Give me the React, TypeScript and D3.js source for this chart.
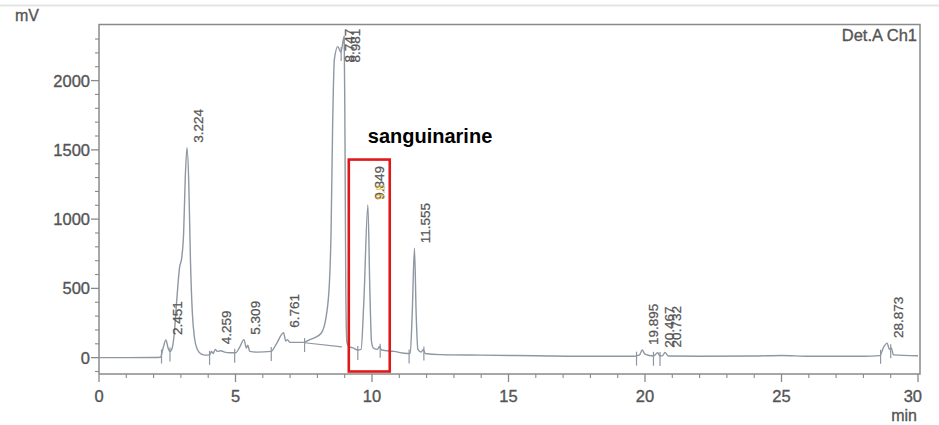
import React from "react";
import * as d3 from "d3";

// Chromatogram trace (retention time in min, detector signal in mV)
const traceTime = [
  0, 1.0, 2.0, 2.25, 2.35, 2.451, 2.53, 2.6, 2.68, 2.75, 2.85, 2.95, 3.03, 3.1, 3.16, 3.224,
  3.29, 3.35, 3.42, 3.5, 3.6, 3.75, 3.9, 4.05, 4.12, 4.18, 4.259, 4.33, 4.45, 4.6, 4.8,
  5.0, 5.15, 5.309, 5.4, 5.45, 5.52, 5.8, 6.3, 6.5, 6.761, 6.84, 6.9, 7.0, 7.5, 7.7, 7.9,
  8.14, 8.32, 8.44, 8.5, 8.56, 8.62, 8.747, 8.86, 8.981, 9.01, 9.04, 9.08, 9.15, 9.3, 9.48,
  9.6, 9.7, 9.849, 9.92, 9.98, 10.05, 10.2, 10.27, 10.35, 10.8, 11.3, 11.4, 11.47, 11.555,
  11.62, 11.68, 11.8, 11.88, 11.95, 12.5, 14, 16, 18, 19.6, 19.8, 19.895, 20.0, 20.3, 20.467,
  20.55, 20.65, 20.732, 20.85, 22, 24, 25, 26, 28, 28.6, 28.75, 28.873, 28.95, 29.02, 29.1, 30,
];
const traceMv = [
  0, 0, 1, 3, 70, 128, 70, 45, 70, 160, 420, 650, 720, 900, 1300, 1515,
  1250, 700, 320, 140, 60, 25, 18, 20, 45, 30, 60, 45, 50, 40, 35,
  35, 75, 130, 70, 90, 45, 40, 45, 100, 180, 120, 130, 110, 110, 128, 145,
  176, 296, 540, 900, 1700, 2150, 2245, 2205, 2320, 1600, 500, 110, 80, 70, 55,
  60, 400, 1103, 500, 120, 70, 60, 80, 55, 45, 30, 30, 300, 790,
  300, 60, 40, 60, 30, 22, 18, 14, 10, 10, 20, 55, 25, 12, 35,
  12, 15, 38, 12, 10, 12, 16, 10, 10, 15, 80, 105, 60, 70, 20, 14,
];

// Labelled peaks: retention time and apex height
const peakTimes = [2.451, 3.224, 4.259, 5.309, 6.761, 8.747, 8.981, 9.849, 11.555, 19.895, 20.467, 20.732, 28.873];
const peakHeights = [128, 1515, 60, 130, 180, 2245, 2320, 1103, 790, 55, 35, 38, 105];
const highlightedPeak = 9.849;

// Peak start / end integration marks
const markerTimes = [2.29, 2.6, 4.05, 4.97, 6.31, 7.53, 8.87, 9.48, 10.3, 11.36, 11.9, 19.69, 20.31, 20.55, 28.63, 29.0];

// Drawn integration baseline under the main peak
const dropLineTimes = [7.53, 8.9];
const dropLineMv = [108, 78];

// Axis ticks
const xMajorTicks = [0, 5, 10, 15, 20, 25, 30];
const yMajorTicks = [0, 500, 1000, 1500, 2000];

// Highlight box around the sanguinarine peak
const boxTimes = [9.15, 10.65];
const boxMv = [-100, 1430];
const boxCaption = "sanguinarine";

const W = 939;
const H = 425;
const FONT = "'Liberation Sans', Arial, Helvetica, sans-serif";
const AXIS = "#8a8a8a";
const TEXT = "#555";
const TRACE = "#8e97a2";

const left = 99;
const right = 920;
const top = 24.5;
const bottom = 374;

const x = d3.scaleLinear().domain([0, 30]).range([left, 918]);
const y = d3.scaleLinear().domain([-118, 2405]).range([bottom, top]);

const signalAt = (t: number) => {
  const i = d3.bisectLeft(traceTime, t);
  if (i <= 0) return traceMv[0];
  if (i >= traceTime.length) return traceMv[traceMv.length - 1];
  const t0 = traceTime[i - 1], t1 = traceTime[i];
  const f = (t - t0) / (t1 - t0);
  return traceMv[i - 1] + f * (traceMv[i] - traceMv[i - 1]);
};

export default function App() {
  const pts: [number, number][] = traceTime.map((t, i) => [t, traceMv[i]]);
  const line = d3
    .line<[number, number]>()
    .x((d) => x(d[0]))
    .y((d) => y(d[1]))
    .curve(d3.curveMonotoneX);

  const xMinor = d3.range(0, 31, 1).filter((v) => v % 5 !== 0);
  const yMinor = d3.range(-100, 2400, 100).filter((v) => v % 500 !== 0);

  const labelSize = 13.5;
  const labelLen = 35;

  return (
    <svg
      width={W}
      height={H}
      viewBox={`0 0 ${W} ${H}`}
      style={{ position: "absolute", left: 0, top: 0, background: "#fff" }}
    >
      <rect x={0} y={0} width={W} height={H} fill="#fff" />
      <line x1={0} x2={W} y1={5.5} y2={5.5} stroke="#e4e4e4" strokeWidth={2} />

      {/* frame */}
      <path
        d={`M${left},${bottom}V${top}H${right}V${bottom}H${left}`}
        fill="none"
        stroke={AXIS}
        strokeWidth={1.5}
      />

      {/* y axis ticks */}
      {yMajorTicks.map((v) => (
        <g key={`ym${v}`}>
          <line x1={left - 8} x2={left} y1={y(v)} y2={y(v)} stroke={AXIS} strokeWidth={1.3} />
          <text
            x={left - 9}
            y={y(v)}
            dy="0.36em"
            textAnchor="end"
            fontFamily={FONT}
            fontSize={16.5}
            fill={TEXT}
            stroke={TEXT}
            strokeWidth={0.35}
          >
            {v}
          </text>
        </g>
      ))}
      {yMinor.map((v) => (
        <line key={`yn${v}`} x1={left - 4} x2={left} y1={y(v)} y2={y(v)} stroke={AXIS} strokeWidth={1.1} />
      ))}

      {/* x axis ticks */}
      {xMajorTicks.map((v, i) => (
        <g key={`xm${v}`}>
          <line x1={x(v)} x2={x(v)} y1={bottom} y2={bottom + 8} stroke={AXIS} strokeWidth={1.3} />
          <text
            x={i === xMajorTicks.length - 1 ? x(v) + 4 : x(v)}
            y={401.5}
            textAnchor={i === xMajorTicks.length - 1 ? "end" : "middle"}
            fontFamily={FONT}
            fontSize={16.5}
            fill={TEXT}
            stroke={TEXT}
            strokeWidth={0.35}
          >
            {v}
          </text>
        </g>
      ))}
      {xMinor.map((v) => (
        <line key={`xn${v}`} x1={x(v)} x2={x(v)} y1={bottom} y2={bottom + 4} stroke={AXIS} strokeWidth={1.1} />
      ))}

      <text x={15} y={21} fontFamily={FONT} fontSize={16} fill={TEXT} stroke={TEXT} strokeWidth={0.35}>
        mV
      </text>
      <text x={917} y={421} textAnchor="end" fontFamily={FONT} fontSize={16} fill={TEXT} stroke={TEXT} strokeWidth={0.35}>
        min
      </text>
      <text x={917} y={41} textAnchor="end" fontFamily={FONT} fontSize={16.5} fill={TEXT} stroke={TEXT} strokeWidth={0.35}>
        Det.A Ch1
      </text>

      {/* integration baseline */}
      <line
        x1={x(dropLineTimes[0])}
        x2={x(dropLineTimes[1])}
        y1={y(dropLineMv[0])}
        y2={y(dropLineMv[1])}
        stroke={TRACE}
        strokeWidth={1.1}
      />

      {/* trace */}
      <path d={line(pts) ?? ""} fill="none" stroke={TRACE} strokeWidth={1.4} strokeLinejoin="round" />

      {/* peak start/end marks */}
      {markerTimes.map((t) => {
        const yy = y(signalAt(t));
        return <line key={`mk${t}`} x1={x(t)} x2={x(t)} y1={yy - 4} y2={yy + 10} stroke={TRACE} strokeWidth={1.2} />;
      })}

      {/* retention time labels */}
      {peakTimes.map((t, i) => {
        const lx = x(t) + 11;
        const ly = Math.max(y(peakHeights[i]) - 5, top + 3 + labelLen);
        const txt = t.toFixed(3);
        return (
          <g key={`pl${t}`} transform={`translate(${lx},${ly}) rotate(-90)`}>
            <text
              x={0}
              y={0}
              dy="0.36em"
              fontFamily={FONT}
              fontSize={labelSize}
              fill={TEXT}
              stroke={TEXT}
              strokeWidth={0.25}
            >
              {txt}
            </text>
            {t === highlightedPeak && (
              <text
                x={0}
                y={1}
                dy="0.36em"
                fontFamily={FONT}
                fontSize={labelSize}
                fill="#e8b526"
                opacity={0.9}
                textLength={15}
                lengthAdjust="spacingAndGlyphs"
              >
                {txt.slice(0, 3)}
              </text>
            )}
          </g>
        );
      })}

      {/* highlight box */}
      <rect
        x={x(boxTimes[0])}
        y={y(boxMv[1])}
        width={x(boxTimes[1]) - x(boxTimes[0])}
        height={y(boxMv[0]) - y(boxMv[1])}
        fill="none"
        stroke="#e01818"
        strokeWidth={2.6}
      />
      <text x={x(boxTimes[0]) + 19} y={143} fontFamily={FONT} fontSize={20} fontWeight="bold" fill="#000">
        {boxCaption}
      </text>
    </svg>
  );
}
